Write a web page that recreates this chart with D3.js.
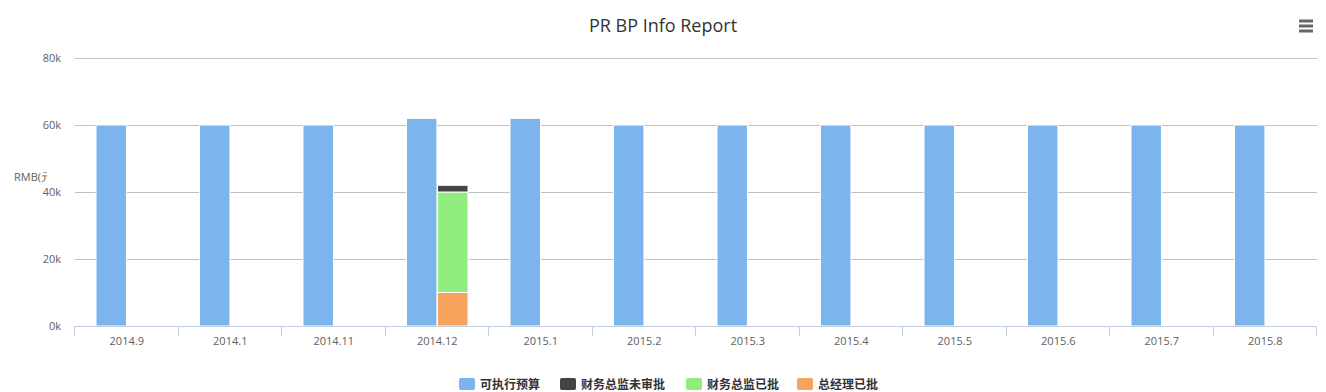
<!DOCTYPE html>
<html><head><meta charset="utf-8">
<script src="https://cdn.jsdelivr.net/npm/d3@7/dist/d3.min.js"></script>
<style>body{margin:0;background:#fff;}svg{display:block;font-family:"Open Sans","Lucida Grande",Arial,sans-serif;}</style>
</head><body>
<svg id="c" width="1326" height="392"></svg>
<script>
const categories = ["2014.9","2014.1","2014.11","2014.12","2015.1","2015.2","2015.3","2015.4","2015.5","2015.6","2015.7","2015.8"];
const seriesNames = ["可执行预算","财务总监未审批","财务总监已批","总经理已批"];
const seriesColors = ["#7cb5ec","#434348","#90ed7d","#f7a35c"];
const seriesStack = ["budget","approval","approval","approval"];
const budget = [60000,60000,60000,62000,62000,60000,60000,60000,60000,60000,60000,60000];
const cfoPending = [0,0,0,2000,0,0,0,0,0,0,0,0];
const cfoApproved = [0,0,0,30000,0,0,0,0,0,0,0,0];
const gmApproved = [0,0,0,10000,0,0,0,0,0,0,0,0];
const yTicks = [0,20000,40000,60000,80000];
const seriesValues = [budget,cfoPending,cfoApproved,gmApproved];

const svg = d3.select("#c");
const L = 75, R = 1317, T = 58, B = 326;
const x = d3.scaleBand().domain(categories).range([L,R]).paddingInner(0).paddingOuter(0);
const y = d3.scaleLinear().domain([0,80000]).range([B,T]);
const stacks = ["budget","approval"];
const bw = x.bandwidth();
const groupPad = 0.2*bw;
const slot = (bw - 2*groupPad)/stacks.length;
const barX = st => groupPad + stacks.indexOf(st)*slot + 0.3;
const barW = slot - 0.6;

// title
svg.append("text").attr("x",663).attr("y",32).attr("text-anchor","middle")
  .attr("fill","#333").attr("font-size",18).text("PR BP Info Report");

// menu icon
[21,26,31].forEach(yy=>svg.append("line").attr("x1",1299).attr("x2",1313).attr("y1",yy).attr("y2",yy)
  .attr("stroke","#666").attr("stroke-width",3));

// grid
svg.append("g").selectAll("line").data(yTicks).join("line")
  .attr("x1",L).attr("x2",R).attr("y1",d=>Math.round(y(d))+0.5).attr("y2",d=>Math.round(y(d))+0.5)
  .attr("stroke","#C0C0C0").attr("stroke-width",1);

// y labels
svg.append("g").selectAll("text").data(yTicks).join("text")
  .attr("x",61).attr("y",d=>y(d)+4).attr("text-anchor","end")
  .attr("fill","#606060").attr("font-size",11).text(d=>d3.format("d")(d/1000)+"k");

// y title clipped
svg.append("clipPath").attr("id","yclip").append("rect").attr("x",0).attr("y",160).attr("width",47).attr("height",40);
svg.append("text").attr("x",14).attr("y",181).attr("clip-path","url(#yclip)")
  .attr("fill","#606060").attr("font-size",11).text("RMB(元)");

// bars
const stacked = categories.map((c,i)=>{
  const base = {budget:0, approval:0};
  const rects = [];
  for(let s=seriesNames.length-1;s>=0;s--){
    const st = seriesStack[s];
    const v = seriesValues[s][i];
    if(v>0){ rects.push({c, s, st, y0:base[st], y1:base[st]+v}); base[st]+=v; }
  }
  return rects;
}).flat();
svg.append("g").selectAll("rect").data(stacked).join("rect")
  .attr("x",d=>x(d.c)+barX(d.st)).attr("width",barW)
  .attr("y",d=>y(d.y1)).attr("height",d=>y(d.y0)-y(d.y1))
  .attr("fill",d=>seriesColors[d.s]).attr("stroke","#fff").attr("stroke-width",1);

// x axis
svg.append("line").attr("x1",L).attr("x2",R).attr("y1",B+0.5).attr("y2",B+0.5).attr("stroke","#C0D0E0");
const tickPos = categories.map(c=>x(c)).concat([R]);
svg.append("g").selectAll("line").data(tickPos).join("line")
  .attr("x1",d=>Math.round(d)-0.5).attr("x2",d=>Math.round(d)-0.5).attr("y1",B).attr("y2",B+10)
  .attr("stroke","#C0D0E0");
svg.append("g").selectAll("text").data(categories).join("text")
  .attr("x",d=>x(d)+bw/2).attr("y",345).attr("text-anchor","middle")
  .attr("fill","#606060").attr("font-size",11).text(d=>d);

// legend
const legX = [459,560,686,797];
const lg = svg.append("g").selectAll("g").data(seriesNames).join("g")
  .attr("transform",(d,i)=>`translate(${legX[i]},378)`);
lg.append("rect").attr("width",16).attr("height",12).attr("rx",2).attr("fill",(d,i)=>seriesColors[i]);
lg.append("text").attr("x",21).attr("y",11).attr("fill","#333").attr("font-size",12).attr("font-weight","bold")
  .attr("font-family","'Noto Sans CJK SC',sans-serif").text(d=>d);
</script>
</body></html>
